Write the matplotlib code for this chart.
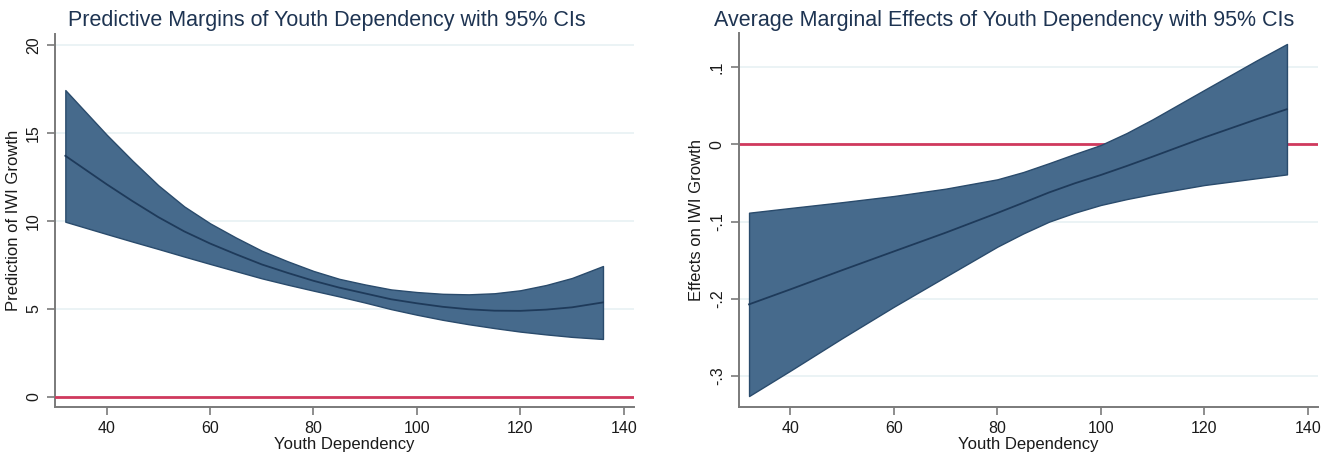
import matplotlib
matplotlib.use("Agg")
import matplotlib.pyplot as plt

plt.rcParams['font.family'] = ['Liberation Sans', 'DejaVu Sans']

# ---- data: predictive margins ----
x_pm = [32, 40, 45, 50, 55, 60, 65, 70, 75, 80, 85, 90, 95, 100, 105, 110, 115, 120, 125, 130, 136]
pm_upper = [17.44, 14.9, 13.42, 12.02, 10.82, 9.86, 9.05, 8.3, 7.7, 7.15, 6.7, 6.38, 6.1, 5.95,
            5.85, 5.82, 5.88, 6.05, 6.35, 6.75, 7.43]
pm_lower = [9.95, 9.25, 8.82, 8.40, 7.97, 7.55, 7.14, 6.73, 6.37, 6.03, 5.7, 5.35, 4.98, 4.66,
            4.37, 4.12, 3.9, 3.7, 3.54, 3.40, 3.28]
pm_mid = [13.70, 12.08, 11.12, 10.21, 9.40, 8.71, 8.10, 7.52, 7.04, 6.59, 6.20, 5.87, 5.54, 5.31,
          5.11, 4.97, 4.89, 4.88, 4.95, 5.08, 5.36]

# ---- data: average marginal effects ----
x_ame = [32, 40, 50, 60, 70, 80, 85, 90, 95, 100, 105, 110, 120, 130, 136]
ame_upper = [-0.0886, -0.0825, -0.075, -0.067, -0.0575, -0.0454, -0.036, -0.0245, -0.0125, -0.0010,
             0.0145, 0.0322, 0.0702, 0.108, 0.1298]
ame_lower = [-0.3259, -0.293, -0.251, -0.2103, -0.1714, -0.1326, -0.1155, -0.1002, -0.0885, -0.0786,
             -0.071, -0.0644, -0.0528, -0.0441, -0.0390]
ame_mid = [-0.2072, -0.1878, -0.163, -0.1387, -0.1145, -0.0890, -0.0758, -0.0624, -0.0505, -0.0398,
           -0.0282, -0.0161, 0.0087, 0.032, 0.0454]

pm_yticks = [0, 5, 10, 15, 20]
pm_yticklabels = ['0', '5', '10', '15', '20']
ame_yticks = [-0.3, -0.2, -0.1, 0, 0.1]
ame_yticklabels = ['-.3', '-.2', '-.1', '0', '.1']
xticks = [40, 60, 80, 100, 120, 140]

FILL = '#466a8c'
EDGE = '#2a4b6c'
MID = '#1e3a5a'
RED = '#d0395d'
GRID = '#e8f1f3'
SPINE = '#7a7a7a'
TITLE = '#1e3452'
TXT = '#1a1a1a'

fig = plt.figure(figsize=(13.34, 4.54), dpi=100)
W, H = 1334, 454

def make_ax(l, r, t, b):
    return fig.add_axes([l / W, 1 - b / H, (r - l) / W, (b - t) / H])

ax1 = make_ax(55, 634, 34, 407)
ax2 = make_ax(738.7, 1318, 33, 406.7)

def style(ax, yticks, ylabels, ylim, ylabel):
    ax.set_xlim(30, 142)
    ax.set_ylim(*ylim)
    ax.set_xticks(xticks)
    ax.set_xticklabels([str(v) for v in xticks], fontsize=11.5, color=TXT)
    ax.set_yticks(yticks)
    ax.set_yticklabels(ylabels, fontsize=11.5, color=TXT, rotation=90, va='center')
    for y in yticks:
        ax.axhline(y, color=GRID, lw=1.2, zorder=0)
    for s in ['top', 'right']:
        ax.spines[s].set_visible(False)
    for s in ['left', 'bottom']:
        ax.spines[s].set_color(SPINE)
        ax.spines[s].set_linewidth(1.4)
    ax.tick_params(axis='both', direction='out', length=6, width=1.2, color=SPINE, pad=4)
    ax.set_xlabel('Youth Dependency', fontsize=12, color=TXT, labelpad=1)
    ax.set_ylabel(ylabel, fontsize=12, color=TXT, labelpad=4)

style(ax1, pm_yticks, pm_yticklabels, (-0.59, 20.63), 'Prediction of IWI Growth')
ax1.fill_between(x_pm, pm_lower, pm_upper, facecolor=FILL, edgecolor=EDGE, lw=1.0, zorder=2)
ax1.plot(x_pm, pm_mid, color=MID, lw=1.3, zorder=3)
ax1.axhline(0, color=RED, lw=2, zorder=4)

style(ax2, ame_yticks, ame_yticklabels, (-0.3397, 0.144), 'Effects on IWI Growth')
ax2.fill_between(x_ame, ame_lower, ame_upper, facecolor=FILL, edgecolor=EDGE, lw=1.0, zorder=2)
ax2.plot(x_ame, ame_mid, color=MID, lw=1.3, zorder=3)
ax2.axhline(0, color=RED, lw=2, zorder=1.5)

fig.text(327 / W, 1 - 20.5 / H, 'Predictive Margins of Youth Dependency with 95% CIs',
         ha='center', va='center', fontsize=15.5, color=TITLE)
fig.text(1004 / W, 1 - 20.5 / H, 'Average Marginal Effects of Youth Dependency with 95% CIs',
         ha='center', va='center', fontsize=15.5, color=TITLE)

fig.savefig('out.png', dpi=100)
